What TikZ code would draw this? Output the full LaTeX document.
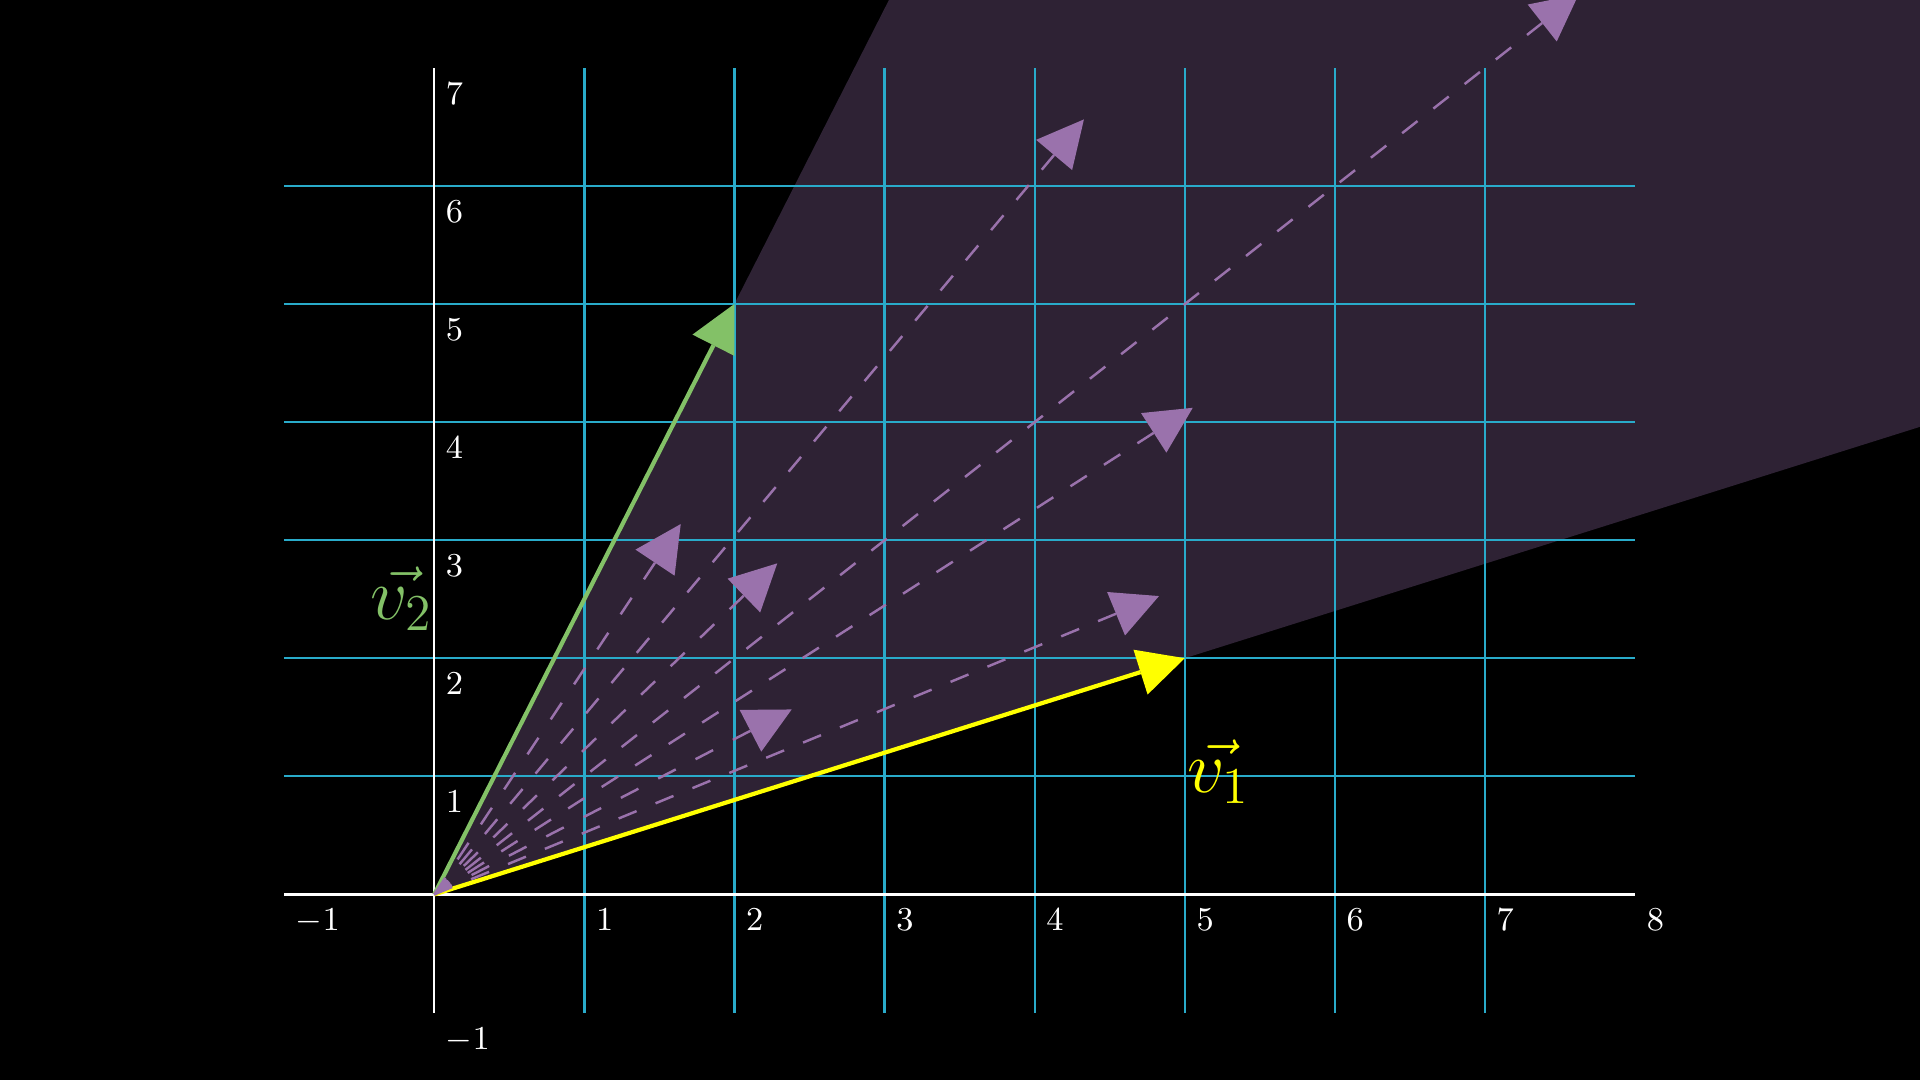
\RequirePackage{fix-cm}
\documentclass[tikz,border=0pt]{standalone}
\usetikzlibrary{arrows.meta}
\definecolor{gridc}{HTML}{29ABCA}
\definecolor{vgreen}{HTML}{83C167}
\definecolor{vyellow}{HTML}{FFFF00}
\definecolor{purp}{HTML}{9A72AC}
\definecolor{conefill}{HTML}{2E2234}
\tikzset{
  gridline/.style={gridc, line width=0.65pt},
  axisline/.style={white, line width=0.7pt},
  numlbl/.style={text=white, anchor=base west, inner sep=0pt, font=\fontsize{9.5}{11}\selectfont},
  bigtip/.style={-{Triangle[length=4.64mm,width=4.7mm,line width=0pt]}},
  solidvec/.style={bigtip, line width=1.2pt},
  dvec/.style={bigtip, purp, line width=0.7pt},
  veclbl/.style={inner sep=0pt, font=\fontsize{21}{25}\selectfont}
}
\begin{document}
\begin{tikzpicture}[x=1.501cm,y=1.181cm]
\fill[black] (-2.893,-1.572) rectangle (9.898,7.573);
\useasboundingbox (-2.893,-1.572) rectangle (9.898,7.573);
% cone
\fill[conefill] (0,0) -- (3.029,7.573) -- (9.898,7.573) -- (9.898,3.959) -- cycle;
% grid
\foreach \i in {1,...,7} \draw[gridline] (\i,-1) -- (\i,7);
\foreach \j in {1,...,6} \draw[gridline] (-1,\j) -- (8,\j);
% axes
\coordinate (O) at (0,0);
\coordinate (xa) at (-1,0); \coordinate (xb) at (8,0);
\coordinate (ya) at (0,-1); \coordinate (yb) at (0,7);
\draw[axisline] (xa) -- (xb);
\draw[axisline] (ya) -- (yb);
% labels
\foreach \k in {-1,1,2,3,4,5,6,7,8}
  \node[numlbl] (xl\k) at ([shift={(0.11cm,-0.36cm)}]\k,0) {$\k$};
\foreach \k in {-1,1,2,3,4,5,6,7}
  \node[numlbl] (yl\k) at ([shift={(0.11cm,-0.365cm)}]0,\k) {$\k$};
% main vectors
\coordinate (V1) at (5,2);
\coordinate (V2) at (2,5);
\draw[solidvec, vgreen] (O) -- (V2);
\draw[solidvec, vyellow] (O) -- (V1);
% dashed vectors
\coordinate (tA) at (4.328,6.562);
\coordinate (tB) at (7.624,7.621);
\coordinate (tC) at (5.053,4.120);
\coordinate (tD) at (4.828,2.526);
\coordinate (tE) at (1.642,3.136);
\coordinate (tF) at (2.285,2.803);
\coordinate (tG) at (2.381,1.566);
\draw[dvec, dash pattern=on 1.930mm off 2.010mm] (O) -- (tA);
\draw[dvec, dash pattern=on 1.958mm off 2.014mm] (O) -- (tB);
\draw[dvec, dash pattern=on 1.943mm off 2.035mm] (O) -- (tC);
\draw[dvec, dash pattern=on 1.940mm off 2.048mm] (O) -- (tD);
\draw[dvec, dash pattern=on 1.992mm off 2.213mm] (O) -- (tE);
\draw[dvec, dash pattern=on 1.956mm off 2.150mm] (O) -- (tF);
\draw[dvec, dash pattern=on 1.978mm off 2.225mm] (O) -- (tG);
% vector labels
\node[veclbl, text=vgreen] (lv2) at (-0.219,2.50) {$\vec{v_2}$};
\node[veclbl, text=vyellow] (lv1) at (5.224,1.04) {$\vec{v_1}$};
\end{tikzpicture}
\end{document}
